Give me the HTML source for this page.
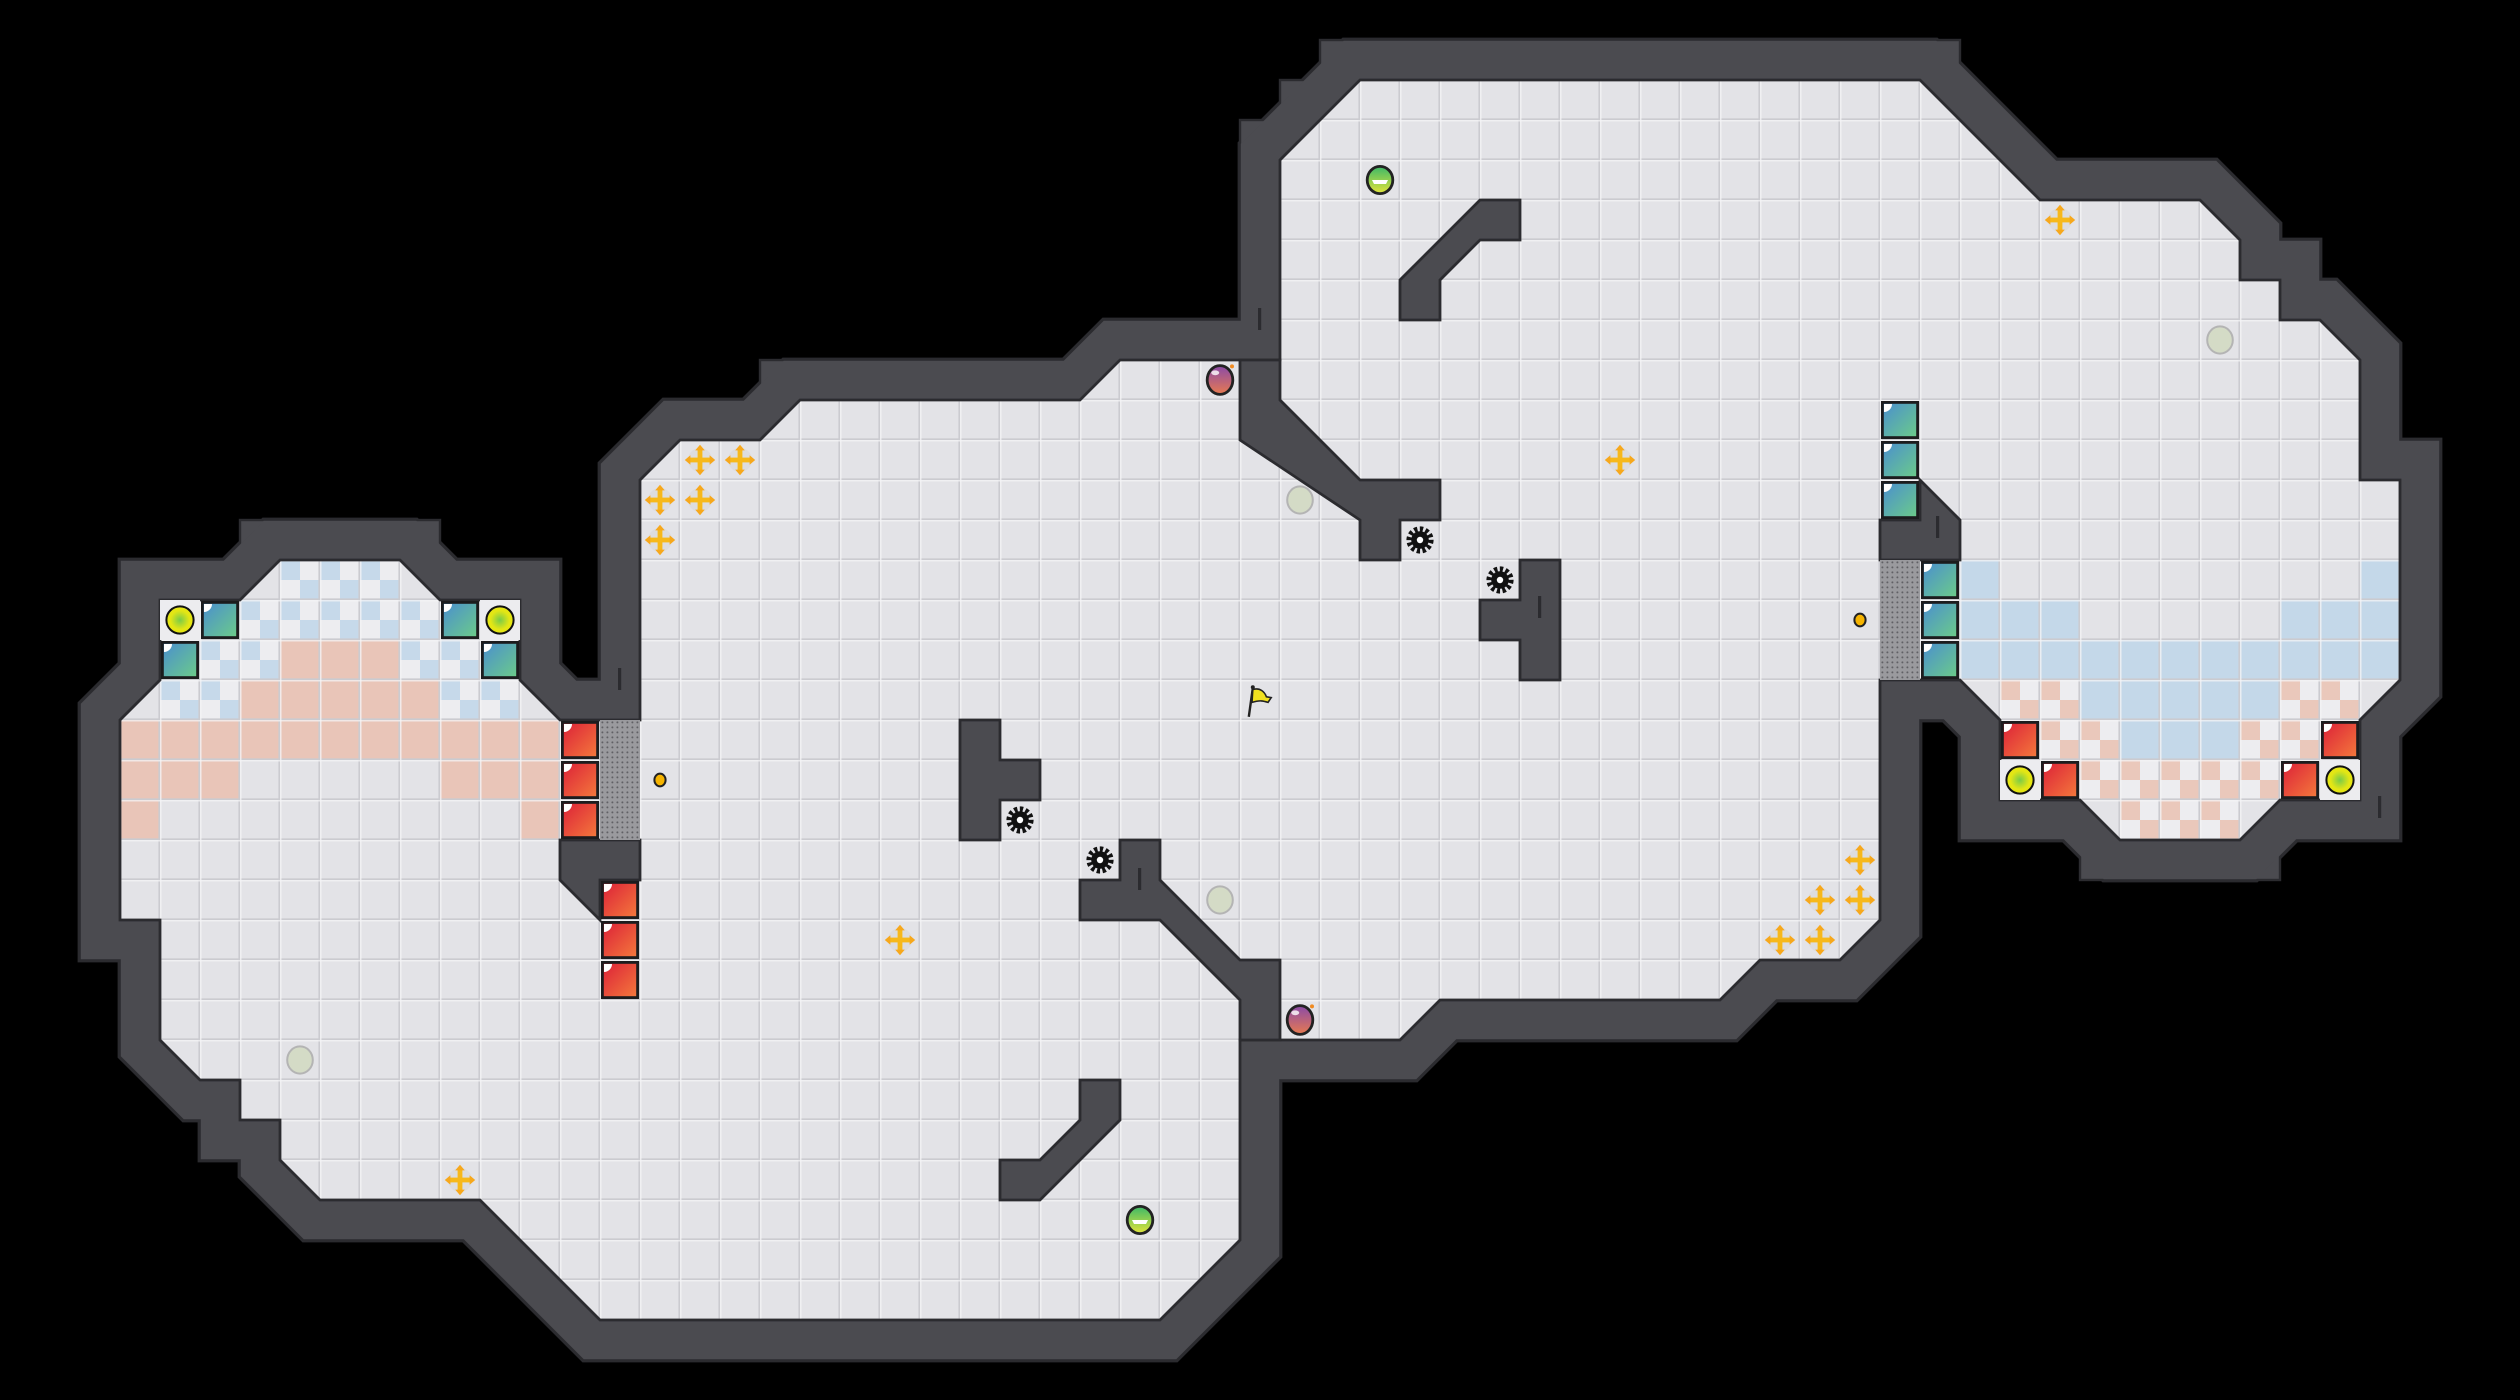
<!DOCTYPE html>
<html><head><meta charset="utf-8"><style>
html,body{margin:0;padding:0;background:#000;width:2520px;height:1400px;overflow:hidden}
svg{display:block}
</style></head><body>
<svg width="2520" height="1400" viewBox="0 0 2520 1400" xmlns="http://www.w3.org/2000/svg">
<defs>
<polygon id="fl" points="16,12 16,18 14,18 13,17 13,15 11,15 10,14 7,14 6,15 4,15 4,17 3,18 3,23 4,23 4,26 5,27 6,27 6,28 7,28 7,29 8,30 12,30 15,33 29,33 31,31 31,26 35,26 36,25 43,25 44,24 46,24 47,23 47,17 49,17 50,18 50,20 52,20 53,21 56,21 57,20 59,20 59,18 60,17 60,12 59,12 59,9 58,8 57,8 57,7 56,7 56,6 55,5 51,5 48,2 34,2 32,4 32,9 28,9 27,10 20,10 19,11 17,11"/>
<pattern id="grid" width="1" height="1" patternUnits="userSpaceOnUse"><path d="M0 .98H1M.98 0V1" stroke="#cbcbd0" stroke-width=".04" fill="none"/><path d="M0 .02H1M.02 0V1" stroke="#f4f4f6" stroke-width=".03" fill="none"/></pattern>
<pattern id="bchk" width="1" height="1" patternUnits="userSpaceOnUse"><rect width="1" height="1" fill="#ededf0"/><rect width=".5" height=".5" fill="#c6d9ea"/><rect x=".5" y=".5" width=".5" height=".5" fill="#c6d9ea"/></pattern>
<pattern id="schk" width="1" height="1" patternUnits="userSpaceOnUse"><rect width="1" height="1" fill="#ededf0"/><rect width=".5" height=".5" fill="#eac8bb"/><rect x=".5" y=".5" width=".5" height=".5" fill="#eac8bb"/></pattern>
<pattern id="dots" width=".125" height=".125" patternUnits="userSpaceOnUse"><rect width=".125" height=".125" fill="#9a9a9e"/><circle cx=".06" cy=".06" r=".025" fill="#606065"/></pattern>
<linearGradient id="gred" x1="0" y1="0" x2="1" y2="1"><stop offset="0" stop-color="#dc2038"/><stop offset="1" stop-color="#f47a3c"/></linearGradient>
<linearGradient id="gteal" x1="0" y1="0" x2="1" y2="1"><stop offset="0" stop-color="#4a8ed0"/><stop offset="1" stop-color="#6ccc88"/></linearGradient>
<radialGradient id="gyel"><stop offset="0" stop-color="#7acb48"/><stop offset=".7" stop-color="#e4e614"/></radialGradient>
<linearGradient id="gpur" x1="0" y1="0" x2="0" y2="1"><stop offset="0" stop-color="#8a4aa8"/><stop offset="1" stop-color="#e87a50"/></linearGradient>
<linearGradient id="ggrn" x1="0" y1="0" x2="0" y2="1"><stop offset="0" stop-color="#3cb868"/><stop offset="1" stop-color="#e2e43a"/></linearGradient>
<symbol id="red" viewBox="0 0 1 1" width="1" height="1"><rect x=".06" y=".06" width=".88" height=".88" fill="url(#gred)" stroke="#1c1c1e" stroke-width=".07"/><path d="M.1 .1H.3A.2 .2 0 0 1 .1 .3Z" fill="#fff"/></symbol>
<symbol id="teal" viewBox="0 0 1 1" width="1" height="1"><rect x=".06" y=".06" width=".88" height=".88" fill="url(#gteal)" stroke="#1c1c1e" stroke-width=".07"/><path d="M.1 .1H.3A.2 .2 0 0 1 .1 .3Z" fill="#fff"/></symbol>
<symbol id="yc" viewBox="0 0 1 1" width="1" height="1"><rect width="1" height="1" fill="#ececef"/><ellipse cx=".5" cy=".5" rx=".34" ry=".34" fill="url(#gyel)" stroke="#111" stroke-width=".05"/></symbol>
<symbol id="gate" viewBox="0 0 1 1" width="1" height="1"><rect width="1" height="1" fill="url(#dots)"/></symbol>
<symbol id="cross" viewBox="0 0 1 1" width="1" height="1"><circle cx=".5" cy=".5" r=".3" fill="#dcdce0"/><rect x=".44" y=".2" width=".12" height=".6" fill="#f6b81c"/><rect x=".2" y=".44" width=".6" height=".12" fill="#f6b81c"/><path d="M.5 .12L.38 .26H.62ZM.5 .88L.38 .74H.62ZM.12 .5L.26 .38V.62ZM.88 .5L.74 .38V.62Z" fill="#f6a81c"/></symbol>
<symbol id="coin" viewBox="0 0 1 1" width="1" height="1"><ellipse cx=".5" cy=".5" rx=".14" ry=".16" fill="#f6b400" stroke="#222" stroke-width=".05"/></symbol>
<symbol id="pale" viewBox="0 0 1 1" width="1" height="1"><ellipse cx=".5" cy=".5" rx=".32" ry=".34" fill="#d4dbc6" stroke="#b4b4b4" stroke-width=".05"/></symbol>
<symbol id="pur" viewBox="0 0 1 1" width="1" height="1"><ellipse cx=".5" cy=".5" rx=".32" ry=".36" fill="url(#gpur)" stroke="#222" stroke-width=".07"/><ellipse cx=".38" cy=".32" rx=".1" ry=".06" fill="#fff" opacity=".8"/><circle cx=".8" cy=".16" r=".05" fill="#f08a20"/></symbol>
<symbol id="grn" viewBox="0 0 1 1" width="1" height="1"><ellipse cx=".5" cy=".5" rx=".32" ry=".34" fill="url(#ggrn)" stroke="#222" stroke-width=".07"/><path d="M.3 .5H.7L.65 .6H.35Z" fill="#fff"/></symbol>
<symbol id="gear" viewBox="0 0 1 1" width="1" height="1"><circle cx=".5" cy=".5" r=".27" fill="none" stroke="#111" stroke-width=".14" stroke-dasharray=".08 .06"/><circle cx=".5" cy=".5" r=".22" fill="#111"/><circle cx=".5" cy=".5" r=".08" fill="#fff"/></symbol>
<symbol id="flag" viewBox="0 0 1 1" width="1" height="1"><path d="M.22 .92L.32 .2" stroke="#222" stroke-width=".06"/><circle cx=".32" cy=".18" r=".05" fill="#222"/><path d="M.32 .24C.5 .18 .62 .3 .66 .42L.78 .44L.7 .56C.58 .52 .5 .5 .3 .56Z" fill="#f0e020" stroke="#222" stroke-width=".04"/></symbol>
</defs>
<rect width="2520" height="1400" fill="#000"/>
<g transform="scale(40)">
<use href="#fl" fill="#2b2b2f" stroke="#2b2b2f" stroke-width="2.12" stroke-linejoin="miter" stroke-miterlimit="10"/>
<g fill="#4b4b50" stroke="#2b2b2f" stroke-width=".06">
<rect x="6" y="13" width="5" height="2"/>
<rect x="33" y="1" width="16" height="2"/>
<rect x="32" y="2" width="2" height="2"/>
<rect x="31" y="3" width="2" height="2"/>
<rect x="52" y="21" width="5" height="1"/>
<rect x="19" y="9" width="8" height="2"/>
</g>
<use href="#fl" fill="#4b4b50" stroke="#4b4b50" stroke-width="1.96" stroke-linejoin="miter" stroke-miterlimit="10"/>
<use href="#fl" fill="#e3e3e7" stroke="none"/>
<g fill="url(#bchk)">
<rect x="7" y="14" width="3" height="1"/><rect x="6" y="15" width="5" height="1"/>
<rect x="5" y="16" width="2" height="1"/><rect x="10" y="16" width="2" height="1"/>
<rect x="4" y="17" width="2" height="1"/><rect x="11" y="17" width="2" height="1"/>
</g>
<g fill="#e9c5b8">
<rect x="7" y="16" width="3" height="1"/><rect x="6" y="17" width="5" height="1"/>
<rect x="3" y="18" width="11" height="1"/><rect x="3" y="19" width="3" height="1"/><rect x="11" y="19" width="3" height="1"/>
<rect x="3" y="20" width="1" height="1"/><rect x="13" y="20" width="1" height="1"/>
</g>
<g fill="#c4d8e9">
<rect x="49" y="14" width="1" height="1"/><rect x="59" y="14" width="1" height="1"/>
<rect x="49" y="15" width="3" height="1"/><rect x="57" y="15" width="3" height="1"/>
<rect x="49" y="16" width="11" height="1"/><rect x="52" y="17" width="5" height="1"/><rect x="53" y="18" width="3" height="1"/>
</g>
<g fill="url(#schk)">
<rect x="50" y="17" width="2" height="1"/><rect x="57" y="17" width="2" height="1"/>
<rect x="51" y="18" width="2" height="1"/><rect x="56" y="18" width="2" height="1"/>
<rect x="52" y="19" width="5" height="1"/><rect x="53" y="20" width="3" height="1"/>
</g>
<use href="#fl" fill="url(#grid)" stroke="#2b2b2f" stroke-width=".07"/>
<g fill="#4b4b50" stroke="#2b2b2f" stroke-width=".07" stroke-linejoin="miter">
<polygon points="14,21 16,21 16,22 15,22 15,23 14,22"/>
<polygon points="28,21 29,21 29,22 31,24 32,24 32,26 31,26 31,25 29,23 27,23 27,22 28,22"/>
<polygon points="31,9 32,9 32,10 34,12 36,12 36,13 35,13 35,14 34,14 34,13 31,11"/>
<polygon points="24,18 25,18 25,19 26,19 26,20 25,20 25,21 24,21"/>
<polygon points="38,14 39,14 39,17 38,17 38,16 37,16 37,15 38,15"/>
<polygon points="37,5 38,5 38,6 37,6 36,7 36,8 35,8 35,7"/>
<polygon points="27,27 28,27 28,28 26,30 25,30 25,29 26,29 27,28"/>
<polygon points="48,12 49,13 49,14 47,14 47,13 48,13"/>
</g>
<g fill="#2b2b2f">
<rect x="15.45" y="16.7" width=".08" height=".55"/><rect x="28.45" y="21.7" width=".08" height=".55"/>
<rect x="38.45" y="14.9" width=".08" height=".55"/><rect x="48.4" y="12.9" width=".08" height=".55"/>
<rect x="31.45" y="7.7" width=".08" height=".55"/><rect x="59.45" y="19.9" width=".08" height=".55"/>
</g>
<use href="#yc" x="4" y="15"/><use href="#yc" x="12" y="15"/>
<use href="#teal" x="5" y="15"/><use href="#teal" x="11" y="15"/><use href="#teal" x="4" y="16"/><use href="#teal" x="12" y="16"/>
<use href="#red" x="14" y="18"/><use href="#red" x="14" y="19"/><use href="#red" x="14" y="20"/>
<use href="#gate" x="15" y="18"/><use href="#gate" x="15" y="19"/><use href="#gate" x="15" y="20"/>
<use href="#red" x="15" y="22"/><use href="#red" x="15" y="23"/><use href="#red" x="15" y="24"/>
<use href="#teal" x="47" y="10"/><use href="#teal" x="47" y="11"/><use href="#teal" x="47" y="12"/>
<use href="#gate" x="47" y="14"/><use href="#gate" x="47" y="15"/><use href="#gate" x="47" y="16"/>
<use href="#teal" x="48" y="14"/><use href="#teal" x="48" y="15"/><use href="#teal" x="48" y="16"/>
<use href="#red" x="50" y="18"/><use href="#red" x="51" y="19"/><use href="#red" x="57" y="19"/><use href="#red" x="58" y="18"/>
<use href="#yc" x="50" y="19"/><use href="#yc" x="58" y="19"/>
<use href="#cross" x="17" y="11"/><use href="#cross" x="18" y="11"/><use href="#cross" x="16" y="12"/><use href="#cross" x="17" y="12"/><use href="#cross" x="16" y="13"/>
<use href="#cross" x="22" y="23"/><use href="#cross" x="11" y="29"/><use href="#cross" x="40" y="11"/><use href="#cross" x="51" y="5"/>
<use href="#cross" x="46" y="21"/><use href="#cross" x="45" y="22"/><use href="#cross" x="46" y="22"/><use href="#cross" x="44" y="23"/><use href="#cross" x="45" y="23"/>
<use href="#coin" x="16" y="19"/><use href="#coin" x="46" y="15"/>
<use href="#pale" x="32" y="12"/><use href="#pale" x="30" y="22"/><use href="#pale" x="7" y="26"/><use href="#pale" x="55" y="8"/>
<use href="#pur" x="30" y="9"/><use href="#pur" x="32" y="25"/>
<use href="#grn" x="34" y="4"/><use href="#grn" x="28" y="30"/>
<use href="#gear" x="35" y="13"/><use href="#gear" x="37" y="14"/><use href="#gear" x="25" y="20"/><use href="#gear" x="27" y="21"/>
<use href="#flag" x="31" y="17"/>
</g>
</svg>
</body></html>
